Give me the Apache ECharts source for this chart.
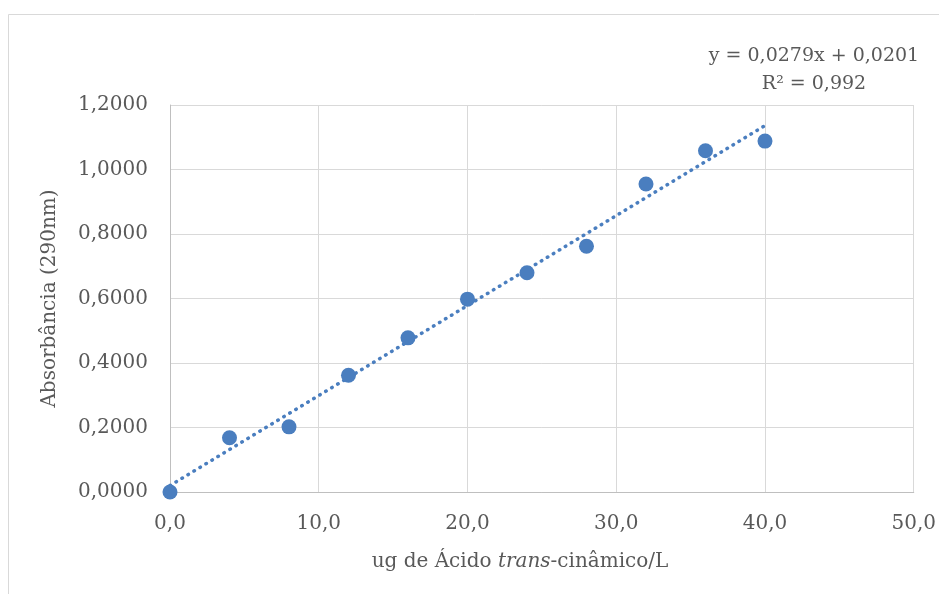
<!DOCTYPE html>
<html>
<head>
<meta charset="utf-8">
<script src="https://cdn.jsdelivr.net/npm/echarts@6/dist/echarts.min.js"></script>
<style>
html,body{margin:0;padding:0;background:#fff;}
#chart{width:939px;height:594px;}
</style>
</head>
<body>
<div id="chart"></div>
<script>
// Data
var concentrations = [0, 4, 8, 12, 16, 20, 24, 28, 32, 36, 40];
var absorbances = [0.000, 0.168, 0.202, 0.362, 0.478, 0.598, 0.680, 0.762, 0.955, 1.058, 1.088];
// Trend line endpoints (y = 0,0279x + 0,0201)
var trendX = [0, 40];
var trendY = [0.0201, 1.1361];
var equationText = 'y = 0,0279x + 0,0201';
var r2Text = 'R\u00B2 = 0,992';
var yTitle = 'Absorbância (290nm)';
var xTitleParts = ['ug de Ácido ', 'trans', '-cinâmico/L'];

var FONT = '"DejaVu Serif", serif';
var TXT = '#595959';
var chart = echarts.init(document.getElementById('chart'), null, {renderer: 'canvas'});

var pts = concentrations.map(function (x, i) { return [x, absorbances[i]]; });
var trend = trendX.map(function (x, i) { return [x, trendY[i]]; });

chart.setOption({
  animation: false,
  backgroundColor: '#fff',
  grid: {left: 170, right: 22, top: 105, bottom: 102},
  xAxis: {
    type: 'value', min: 0, max: 50, interval: 10,
    axisLine: {show: true, lineStyle: {color: '#bfbfbf', width: 1}},
    axisTick: {show: false},
    splitLine: {show: true, lineStyle: {color: '#d9d9d9', width: 1}},
    axisLabel: {color: TXT, fontFamily: FONT, fontSize: 20, margin: 22,
      formatter: function (v) { return v.toFixed(1).replace('.', ','); }}
  },
  yAxis: {
    type: 'value', min: 0, max: 1.2, interval: 0.2,
    name: yTitle, nameLocation: 'middle', nameGap: 110,
    nameTextStyle: {color: TXT, fontFamily: FONT, fontSize: 20},
    axisLine: {show: true, lineStyle: {color: '#bfbfbf', width: 1}},
    axisTick: {show: false},
    splitLine: {show: true, lineStyle: {color: '#d9d9d9', width: 1}},
    axisLabel: {color: TXT, fontFamily: FONT, fontSize: 20, margin: 22,
      formatter: function (v) { return v.toFixed(4).replace('.', ','); }}
  },
  graphic: [
    {type: 'rect', silent: true, z: -10, shape: {x: 8.5, y: 14.5, width: 1000, height: 1000},
      style: {fill: 'none', stroke: '#d9d9d9', lineWidth: 1}},
    {type: 'text', x: 814, y: 42, style: {text: equationText + '\n' + r2Text, align: 'center',
      fill: TXT, font: '19px ' + FONT, lineHeight: 28}},
    {type: 'text', x: 520, y: 562, style: {
      text: '{a|' + xTitleParts[0] + '}{i|' + xTitleParts[1] + '}{a|' + xTitleParts[2] + '}',
      align: 'center', verticalAlign: 'middle',
      rich: {
        a: {fill: TXT, fontFamily: FONT, fontSize: 20},
        i: {fill: TXT, fontFamily: FONT, fontSize: 20, fontStyle: 'italic'}
      }}}
  ],
  series: [
    {type: 'line', data: trend, symbol: 'none', silent: true, z: 2,
      lineStyle: {color: '#4a7ebf', width: 3.5, type: [0.5, 6.5], cap: 'round'}},
    {type: 'scatter', data: pts, symbol: 'circle', symbolSize: 15, z: 3,
      itemStyle: {color: '#4a7ebf', opacity: 1}}
  ]
});
</script>
</body>
</html>
